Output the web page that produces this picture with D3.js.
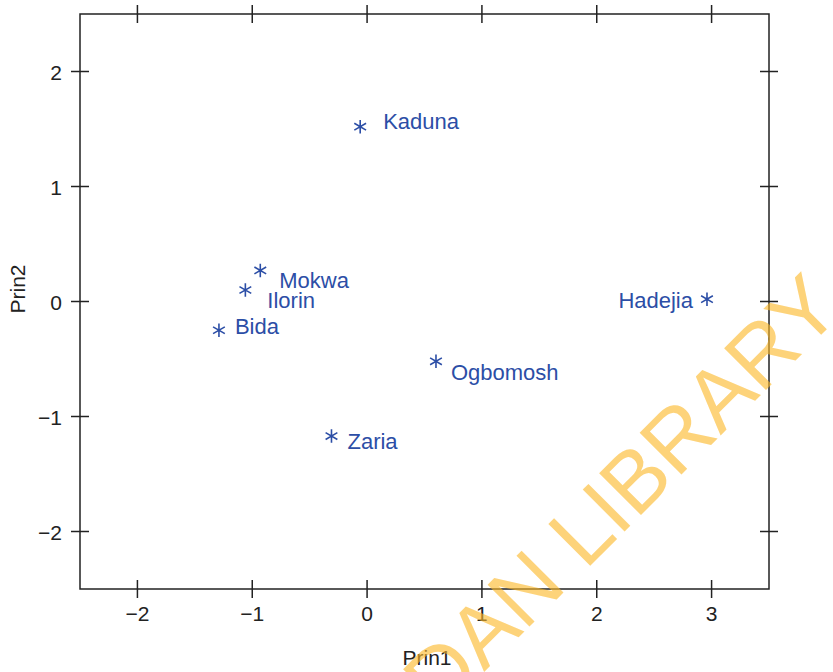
<!DOCTYPE html>
<html>
<head>
<meta charset="utf-8">
<script src="https://cdn.jsdelivr.net/npm/d3@7"></script>
<style>
  body { margin: 0; background: #fff; }
  svg { display: block; font-family: "Liberation Sans", Arial, sans-serif; }
</style>
</head>
<body>
<div id="chart"></div>
<script>
/*
 * Data
 *****************************/
const towns = ["Kaduna", "Mokwa", "Ilorin", "Bida", "Hadejia", "Ogbomosh", "Zaria"];
const prin1 = [-0.06, -0.93, -1.06, -1.29, 2.96, 0.60, -0.31];
const prin2 = [1.52, 0.27, 0.10, -0.25, 0.02, -0.52, -1.17];
const xTicks = [-2, -1, 0, 1, 2, 3];
const yTicks = [-2, -1, 0, 1, 2];

/*
 * Parameters
 *****************************/
const width = 833, height = 672;
const margin = {top: 14, right: 64, bottom: 83, left: 80};
const blue = "#2c4ea6";

// label placement relative to the star (pixels)
const labelOffset = {
  Kaduna:   {dx: 23, dy: -6, anchor: "start"},
  Mokwa:    {dx: 19, dy: 10, anchor: "start"},
  Ilorin:   {dx: 22, dy: 10, anchor: "start"},
  Bida:     {dx: 16, dy: -4, anchor: "start"},
  Hadejia:  {dx: -14, dy: 1, anchor: "end"},
  Ogbomosh: {dx: 15, dy: 11, anchor: "start"},
  Zaria:    {dx: 16, dy: 5, anchor: "start"}
};

const data = towns.map((t, i) => ({name: t, x: prin1[i], y: prin2[i]}));

const svg = d3.select("#chart").append("svg")
  .attr("width", width)
  .attr("height", height);

const x = d3.scaleLinear().domain([-2.5, 3.5]).range([margin.left, width - margin.right]);
const y = d3.scaleLinear().domain([-2.5, 2.5]).range([height - margin.bottom, margin.top]);

const tick = 9;
const fmt = d => d < 0 ? "\u2212" + Math.abs(d) : String(d);

// frame
svg.append("rect")
  .attr("x", x(-2.5)).attr("y", y(2.5))
  .attr("width", x(3.5) - x(-2.5)).attr("height", y(-2.5) - y(2.5))
  .attr("fill", "none").attr("stroke", "#222").attr("stroke-width", 1.5);

// ticks crossing the frame on all four sides
const axes = svg.append("g").attr("stroke", "#222").attr("stroke-width", 1.5);
[y(-2.5), y(2.5)].forEach(yy => {
  axes.selectAll(null).data(xTicks).enter().append("line")
    .attr("x1", d => x(d)).attr("x2", d => x(d))
    .attr("y1", yy - tick).attr("y2", yy + tick);
});
[x(-2.5), x(3.5)].forEach(xx => {
  axes.selectAll(null).data(yTicks).enter().append("line")
    .attr("y1", d => y(d)).attr("y2", d => y(d))
    .attr("x1", xx - tick).attr("x2", xx + tick);
});

// tick labels
svg.append("g").selectAll("text").data(xTicks).enter().append("text")
  .attr("x", d => x(d)).attr("y", y(-2.5) + 32)
  .attr("text-anchor", "middle")
  .style("font-size", "21px").attr("fill", "#222")
  .text(fmt);

svg.append("g").selectAll("text").data(yTicks).enter().append("text")
  .attr("x", x(-2.5) - 18).attr("y", d => y(d) + 8)
  .attr("text-anchor", "end")
  .style("font-size", "21px").attr("fill", "#222")
  .text(fmt);

// axis titles
svg.append("text")
  .attr("x", 427).attr("y", 665)
  .attr("text-anchor", "middle")
  .style("font-size", "21px").attr("fill", "#222")
  .text("Prin1");

svg.append("text")
  .attr("transform", "translate(25,289) rotate(-90)")
  .attr("text-anchor", "middle")
  .style("font-size", "21px").attr("fill", "#222")
  .text("Prin2");

// points
const star = d3.symbol().type(d3.symbolAsterisk).size(130);
svg.append("g").selectAll("path").data(data).enter().append("path")
  .attr("transform", d => "translate(" + x(d.x) + "," + y(d.y) + ")")
  .attr("d", star)
  .attr("fill", "none").attr("stroke", blue).attr("stroke-width", 1.6);

svg.append("g").selectAll("text").data(data).enter().append("text")
  .attr("x", d => x(d.x) + labelOffset[d.name].dx)
  .attr("y", d => y(d.y) + labelOffset[d.name].dy + 8)
  .attr("text-anchor", d => labelOffset[d.name].anchor)
  .style("font-size", "22px").attr("fill", blue)
  .text(d => d.name);

// watermark
svg.append("text")
  .attr("transform", "translate(440,716) rotate(-45)")
  .style("font-size", "86px")
  .attr("fill", "#fbb829").attr("fill-opacity", 0.62)
  .text("DAN LIBRARY");
</script>
</body>
</html>
